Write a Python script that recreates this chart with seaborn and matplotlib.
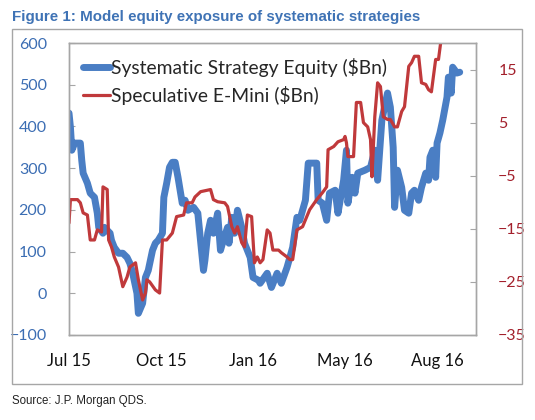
import numpy as np
import pandas as pd
import matplotlib
matplotlib.use("Agg")
import matplotlib.pyplot as plt
import seaborn as sns
from matplotlib.patches import Rectangle

# systematic strategy equity ($Bn), left axis; x = trading-day index from Jul 15
equity_day = [0, 1, 2, 4, 8, 9, 10, 13, 15, 18, 20, 21, 24, 25, 29, 30, 32, 35, 38, 41,
              43, 45, 48, 49, 52, 54, 56, 59, 61, 63, 66, 67, 69, 71, 73, 75, 77, 80, 82, 84,
              88, 91, 95, 96, 98, 100, 102, 105, 107, 109, 112, 113, 115, 117, 119, 122, 124, 128, 130, 134,
              135, 140, 143, 147, 150, 154, 158, 161, 163, 167, 169, 175, 176, 179, 182, 184, 188, 190, 194, 196,
              197, 200, 202, 204, 209, 213, 216, 218, 221, 225, 227, 229, 230, 232, 235, 237, 240, 242, 244, 247,
              249, 252, 254, 255, 257, 259, 260, 262, 264, 267, 268, 270, 271, 274, 276]
equity_bn = [432, 398, 343, 360, 360, 319, 288, 264, 240, 230, 192, 158, 144, 158, 144, 127, 110, 96, 96, 86,
             72, 48, 0, -48, -24, 38, 55, 103, 120, 127, 144, 230, 264, 302, 314, 314, 278, 216, 223, 199,
             206, 192, 55, 79, 144, 175, 144, 192, 103, 127, 158, 120, 182, 144, 199, 158, 120, 86, 38, 31,
             24, 48, 14, 48, 24, 62, 110, 182, 175, 223, 312, 312, 223, 216, 175, 240, 247, 192, 271, 343,
             216, 278, 240, 288, 295, 302, 343, 271, 415, 480, 446, 350, 206, 295, 254, 199, 192, 240, 247, 223,
             254, 288, 271, 326, 343, 278, 360, 384, 415, 470, 518, 480, 542, 528, 530]

# speculative E-Mini positioning ($Bn), right axis
emini_day = [0, 1, 6, 8, 10, 13, 15, 18, 20, 23, 24, 27, 28, 30, 32, 35, 38, 41, 43, 47,
             49, 52, 54, 55, 57, 61, 64, 66, 69, 73, 76, 81, 83, 87, 89, 93, 100, 102, 105, 110,
             112, 115, 117, 119, 122, 124, 126, 129, 131, 133, 135, 137, 140, 142, 144, 148, 150, 154, 156, 158,
             161, 165, 170, 175, 179, 182, 183, 187, 190, 194, 195, 196, 197, 201, 203, 206, 208, 211, 213, 214,
             216, 218, 220, 222, 225, 227, 230, 232, 235, 237, 240, 242, 244, 247, 249, 252, 254, 256, 259, 261,
             264]
emini_bn = [-13.9, -9.5, -9.5, -10.1, -12.0, -12.4, -17.1, -17.1, -15.2, -15.6, -7.1, -7.6, -17.1, -18.4, -20.3, -22.2, -25.9, -24.1, -22.2, -21.4,
            -24.6, -28.4, -27.1, -24.6, -25.0, -26.5, -27.1, -17.1, -17.1, -15.8, -12.7, -12.4, -10.1, -10.1, -9.0, -8.0, -7.6, -9.5, -9.9, -10.1,
            -10.8, -14.6, -15.8, -14.6, -17.6, -18.4, -12.4, -12.7, -21.4, -20.3, -21.4, -20.8, -15.2, -15.8, -19.0, -19.0, -19.5, -20.3, -20.8, -20.8,
            -15.2, -14.6, -11.4, -9.5, -8.2, -7.1, -0.1, 0.5, 1.4, 1.8, 2.4, 1.2, -1.4, -1.4, 8.8, 8.8, 5.0, 4.2, 1.8, -5.2,
            6.1, 12.5, 11.8, 6.1, 5.6, 5.6, 4.2, 4.2, 7.1, 8.0, 15.6, 16.3, 17.5, 17.5, 12.5, 12.2, 11.2, 10.8, 16.9, 16.9,
            23.0]

tick_pos = [0, 65, 130, 195, 260]
tick_labels = ["Jul 15", "Oct 15", "Jan 16", "May 16", "Aug 16"]

blue = "#4a7ec4"
red = "#c0393b"
edge = "#a6a6a6"

sns.set_style("white")
plt.rcParams["font.family"] = ["Lato", "DejaVu Sans"]

fig = plt.figure(figsize=(5.35, 4.2), dpi=100)
ax = fig.add_axes([69 / 535, 85 / 420, 407 / 535, 292 / 420])
ax2 = ax.twinx()

eq = pd.DataFrame({"day": equity_day, "bn": equity_bn})
em = pd.DataFrame({"day": emini_day, "bn": emini_bn})
sns.lineplot(data=eq, x="day", y="bn", ax=ax, color=blue, lw=5.0, solid_joinstyle="round",
             label="Systematic Strategy Equity ($Bn)", legend=False)
sns.lineplot(data=em, x="day", y="bn", ax=ax2, color=red, lw=2.3,
             label="Speculative E-Mini ($Bn)", legend=False)

ax.set_xlim(0, 287.5)
ax.set_ylim(-100, 600)
ax.set_yticks(range(-100, 601, 100))
ax2.set_ylim(-35, 20)
ax2.set_yticks(range(-35, 16, 10))
ax.set_xticks(tick_pos)
ax.set_xticklabels(tick_labels)
ax.set_xlabel("")
ax.set_ylabel("")
ax2.set_ylabel("")

for a in (ax, ax2):
    for s in a.spines.values():
        s.set_color(edge)
        s.set_linewidth(1.0)
ax.tick_params(axis="x", direction="in", length=4, color=edge, pad=13, labelsize=12, labelcolor="#111111")
ax.tick_params(axis="y", direction="in", length=4, color=edge, pad=16, labelsize=11.5, labelcolor="#3b6db3")
ax2.tick_params(axis="y", direction="in", length=4, color=edge, pad=16, labelsize=11.5, labelcolor="#a3202c")

handles = ax.get_lines()[:1] + ax2.get_lines()[:1]
ax2.legend(handles, [h.get_label() for h in handles], loc="upper left", frameon=False,
           fontsize=13.9, handlelength=1.4, handletextpad=0.05, labelspacing=0.5,
           borderaxespad=0.2, bbox_to_anchor=(0.005, 0.99))

fig.add_artist(Rectangle((12 / 535, 1 - 384 / 420), 510 / 535, 355 / 420, transform=fig.transFigure,
                         fill=False, edgecolor=edge, lw=1.0))
fig.text(12 / 535, 1 - 17 / 420, "Figure 1: Model equity exposure of systematic strategies",
         fontsize=10.9, fontweight="bold", color="#3f73b5", va="center", ha="left",
         family=["Liberation Sans", "DejaVu Sans"])
fig.text(12 / 535, 1 - 401 / 420, "Source: J.P. Morgan QDS.", fontsize=8.3, color="#222222",
         va="center", ha="left", family=["Liberation Sans", "DejaVu Sans"])

fig.savefig("out.png", dpi=100)
